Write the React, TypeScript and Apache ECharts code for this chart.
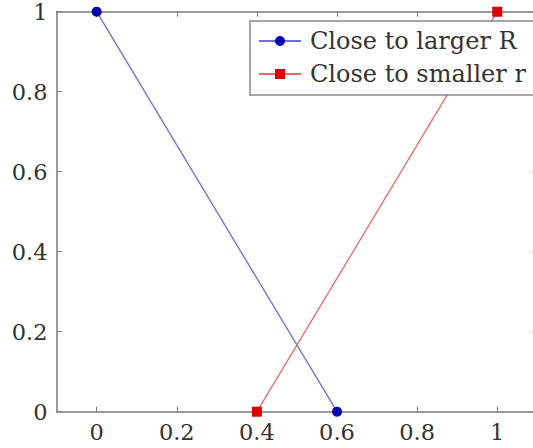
import React, { useEffect, useRef } from "react";
import * as echarts from "echarts";

const seriesNames = ["Close to larger R", "Close to smaller r"];
const largerX = [0, 0.6];
const largerY = [1, 0];
const smallerX = [0.4, 1];
const smallerY = [0, 1];
const xTicks = [0, 0.2, 0.4, 0.6, 0.8, 1];
const yTicks = [0, 0.2, 0.4, 0.6, 0.8, 1];

const FONT = "DejaVu Serif";
const TEXT = "#333";
const AXIS = "#7a7a7a";

export default function App() {
  const ref = useRef<HTMLDivElement>(null);
  useEffect(() => {
    if (!ref.current) return;
    const chart = echarts.init(ref.current, undefined, { renderer: "svg" });
    const fmt = (v: number) => String(+Number(v).toFixed(1));
    const axisCommon = {
      axisLine: { show: true, onZero: false, lineStyle: { color: AXIS, width: 1.5 } },
      axisTick: { show: true, inside: true, length: 5, lineStyle: { color: AXIS, width: 1 } },
      splitLine: { show: false },
    };
    chart.setOption({
      animation: false,
      backgroundColor: "#fff",
      textStyle: { fontFamily: FONT },
      grid: {
        left: 56.6,
        top: 11.7,
        width: 480.7,
        height: 400,
        containLabel: false,
        outerBoundsMode: "none",
      },
      xAxis: [
        {
          type: "value",
          min: -0.1,
          max: 1.1,
          position: "bottom",
          ...axisCommon,
          axisTick: { ...axisCommon.axisTick, customValues: xTicks },
          axisLabel: {
            customValues: xTicks,
            formatter: fmt,
            color: TEXT,
            fontFamily: FONT,
            fontSize: 22.5,
            margin: 9,
          },
        },
        {
          type: "value",
          min: -0.1,
          max: 1.1,
          position: "top",
          ...axisCommon,
          axisTick: { ...axisCommon.axisTick, customValues: xTicks },
          axisLabel: { show: false, customValues: xTicks },
        },
      ],
      yAxis: [
        {
          type: "value",
          min: 0,
          max: 1,
          position: "left",
          ...axisCommon,
          axisTick: { ...axisCommon.axisTick, customValues: yTicks },
          axisLabel: {
            customValues: yTicks,
            formatter: fmt,
            color: TEXT,
            fontFamily: FONT,
            fontSize: 22.5,
            margin: 9,
          },
        },
        {
          type: "value",
          min: 0,
          max: 1,
          position: "right",
          ...axisCommon,
          axisTick: { ...axisCommon.axisTick, customValues: yTicks },
          axisLabel: { show: false, customValues: yTicks },
        },
      ],
      legend: {
        orient: "vertical",
        left: 250,
        top: 21,
        itemWidth: 42,
        itemHeight: 12.5,
        itemGap: 3,
        padding: [5, 13, 6, 8],
        borderColor: "#888",
        borderWidth: 1.5,
        backgroundColor: "#fff",
        textStyle: { color: TEXT, fontFamily: FONT, fontSize: 24, lineHeight: 30, padding: [0, 0, 0, 4] },
        data: seriesNames,
      },
      series: [
        {
          name: seriesNames[0],
          type: "line",
          data: largerX.map((x, i) => [x, largerY[i]]),
          symbol: "circle",
          symbolSize: 10,
          clip: false,
          z: 3,
          itemStyle: { color: "#0000b0" },
          lineStyle: { color: "#6e6ed2", width: 1.3 },
        },
        {
          name: seriesNames[1],
          type: "line",
          data: smallerX.map((x, i) => [x, smallerY[i]]),
          symbol: "rect",
          symbolSize: 10,
          clip: false,
          z: 3,
          itemStyle: { color: "#dd0000" },
          lineStyle: { color: "#e26c6c", width: 1.3 },
        },
      ],
    });
    return () => chart.dispose();
  }, []);
  return (
    <div
      ref={ref}
      style={{ position: "fixed", left: 0, top: 0, width: 533, height: 448, background: "#fff" }}
    />
  );
}
